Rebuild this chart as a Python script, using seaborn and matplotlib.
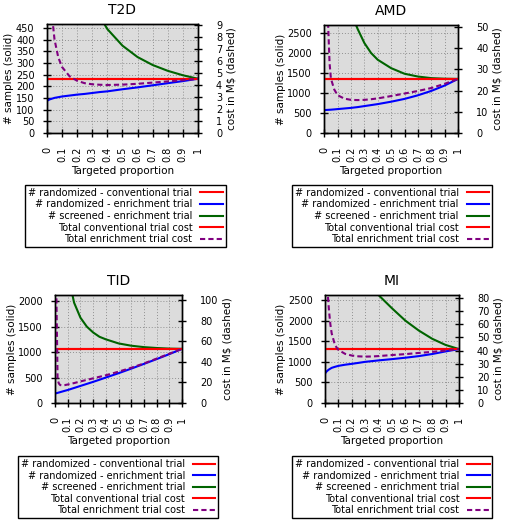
import numpy as np
import matplotlib
matplotlib.use("Agg")
import matplotlib.pyplot as plt
import seaborn as sns

nan = np.nan

# targeted proportion grid (x axis of every panel)
prop = [0, 0.01, 0.02, 0.03, 0.04, 0.05, 0.075, 0.1, 0.15, 0.2, 0.25,
        0.3, 0.35, 0.4, 0.5, 0.6, 0.7, 0.8, 0.9, 1.0]
x_ticks = [0, 0.1, 0.2, 0.3, 0.4, 0.5, 0.6, 0.7, 0.8, 0.9, 1.0]
x_tick_labels = ["0", "0.1", "0.2", "0.3", "0.4", "0.5", "0.6", "0.7", "0.8", "0.9", "1"]

legend_labels = ["# randomized - conventional trial",
                 "# randomized - enrichment trial",
                 "# screened - enrichment trial",
                 "Total conventional trial cost",
                 "Total enrichment trial cost"]

# T2D
t2d_conv_n = 232
t2d_conv_cost = 4.52
t2d_rand = [137, 141, 144, 146, 148, 150, 153, 156, 160, 164, 167,
            171, 175, 178, 187, 195, 204, 213, 222, 232]
t2d_screen = [nan, nan, nan, nan, nan, nan, nan, nan, nan, nan, 668,
              570, 500, 445, 374, 325, 291, 266, 247, 232]
t2d_cost = [nan, nan, nan, 11.0, 9.0, 7.8, 6.3, 5.5, 4.72, 4.35, 4.15,
            4.06, 4.02, 4.0, 4.03, 4.1, 4.2, 4.3, 4.4, 4.52]

# AMD
amd_conv_n = 1350
amd_conv_cost = 25.5
amd_rand = [570, 572, 574, 576, 578, 580, 587, 595, 610, 625, 645,
            670, 695, 720, 780, 850, 940, 1050, 1185, 1350]
amd_screen = [nan, nan, nan, nan, nan, nan, nan, nan, nan, 3000, 2600,
              2250, 2000, 1830, 1620, 1480, 1410, 1370, 1355, 1350]
amd_cost = [nan, nan, 60, 50, 33, 25.7, 20.5, 17.8, 16.2, 15.6, 15.5,
            15.6, 15.9, 16.3, 17.4, 18.6, 19.8, 21.2, 23.2, 25.5]

# T1D
t1d_conv_n = 1063
t1d_conv_cost = 52.7
t1d_rand = [185, 192, 199, 206, 213, 220, 238, 255, 295, 335, 375,
            415, 457, 500, 585, 675, 768, 862, 960, 1063]
t1d_screen = [nan, nan, nan, nan, nan, nan, nan, 2550, 1970, 1675, 1500,
              1385, 1300, 1250, 1170, 1125, 1097, 1080, 1068, 1063]
t1d_cost = [nan, 110, 23, 19, 17.5, 17.2, 17.4, 18.0, 19.4, 21, 22.5,
            24, 25.5, 27, 30.5, 34.3, 38.5, 43.2, 48.0, 52.7]

# MI
mi_conv_n = 1310
mi_conv_cost = 41.15
mi_rand = [717, 760, 790, 815, 835, 854, 880, 902, 930, 951, 975,
           1000, 1017, 1035, 1066, 1100, 1139, 1190, 1253, 1310]
mi_screen = [nan, nan, nan, nan, nan, nan, nan, nan, nan, nan, nan,
             nan, 2900, 2620, 2300, 2000, 1760, 1560, 1410, 1310]
mi_cost = [nan, 100, 84, 70, 60, 53, 44, 40.5, 37.5, 36.2, 35.6,
           35.4, 35.5, 35.8, 36.6, 37.3, 38.2, 39.0, 40.0, 41.15]

RED = "#ff0000"
BLUE = "#0000ff"
GREEN = "#006400"
PURPLE = "#800080"
BG = "#dcdcdc"

plt.rcParams["font.family"] = ["DejaVu Sans"]
plt.rcParams["axes.linewidth"] = 1.0

fig = plt.figure(figsize=(5.05, 5.21), dpi=100)


def draw_panel(rect, title, rand, screen, cost, conv_n, conv_cost,
               ylim, y2lim, yticks, y2ticks, legend_xy):
    ax = fig.add_axes(rect)
    ax.set_facecolor(BG)
    ax2 = ax.twinx()

    conv_line = np.full(len(prop), conv_n)
    conv_cost_line = np.full(len(prop), conv_cost)

    sns.lineplot(x=prop, y=rand, ax=ax, color=BLUE, lw=1.5)
    sns.lineplot(x=prop, y=screen, ax=ax, color=GREEN, lw=1.5)
    sns.lineplot(x=prop, y=conv_line, ax=ax, color=RED, lw=1.5)
    l_rand, l_screen, l_conv = ax.lines[-3:]

    sns.lineplot(x=prop, y=conv_cost_line, ax=ax2, color=RED, lw=1.5)
    sns.lineplot(x=prop, y=cost, ax=ax2, color=PURPLE, lw=1.5)
    l_convcost, l_cost = ax2.lines[-2:]
    l_cost.set_dashes((2.5, 1.5))

    ax.set_xlim(0, 1)
    ax.set_ylim(*ylim)
    ax2.set_ylim(*y2lim)
    ax.set_yticks(yticks)
    ax2.set_yticks(y2ticks)
    ax.set_xticks(x_ticks)
    ax.set_xticklabels(x_tick_labels, rotation=90)

    ax.grid(True, linestyle=(0, (1, 2)), color="#909090", lw=0.7)
    ax.set_axisbelow(True)

    ax.tick_params(axis="x", direction="inout", length=6, width=1,
                   labelsize=7, pad=7)
    ax.tick_params(axis="y", direction="inout", length=6, width=1,
                   labelsize=7, pad=6)
    ax2.tick_params(axis="y", direction="inout", length=6, width=1,
                    labelsize=7, pad=10)
    ax.set_title(title, fontsize=10, pad=7)
    ax.set_xlabel("Targeted proportion", fontsize=7.5, labelpad=3)
    ax.set_ylabel("# samples (solid)", fontsize=7.5, labelpad=1)
    ax2.set_ylabel("cost in M$ (dashed)", fontsize=7.5, labelpad=3)

    leg = fig.legend([l_conv, l_rand, l_screen, l_convcost, l_cost],
                     legend_labels, loc="upper center",
                     bbox_to_anchor=legend_xy,
                     bbox_transform=fig.transFigure,
                     markerfirst=False, fancybox=False, framealpha=1,
                     edgecolor="black", fontsize=7, handlelength=2.3,
                     handletextpad=0.8, labelspacing=0.16, borderpad=0.3,
                     borderaxespad=0)
    leg.get_frame().set_linewidth(1.0)


draw_panel([0.093, 0.745, 0.299, 0.209], "T2D", t2d_rand, t2d_screen, t2d_cost,
           t2d_conv_n, t2d_conv_cost, (0, 467), (0, 9.1),
           range(0, 451, 50), range(0, 10), (0.2485, 0.645))
draw_panel([0.642, 0.745, 0.265, 0.207], "AMD", amd_rand, amd_screen, amd_cost,
           amd_conv_n, amd_conv_cost, (0, 2700), (0, 51),
           range(0, 2501, 500), range(0, 51, 10), (0.776, 0.645))
draw_panel([0.109, 0.2265, 0.2515, 0.207], "TID", t1d_rand, t1d_screen, t1d_cost,
           t1d_conv_n, t1d_conv_cost, (0, 2118), (0, 105),
           range(0, 2001, 500), range(0, 101, 20), (0.234, 0.1245))
draw_panel([0.6436, 0.2265, 0.2653, 0.207], "MI", mi_rand, mi_screen, mi_cost,
           mi_conv_n, mi_conv_cost, (0, 2620), (0, 82.3),
           range(0, 2501, 500), range(0, 81, 10), (0.777, 0.1245))

fig.savefig("out.png", dpi=100)
